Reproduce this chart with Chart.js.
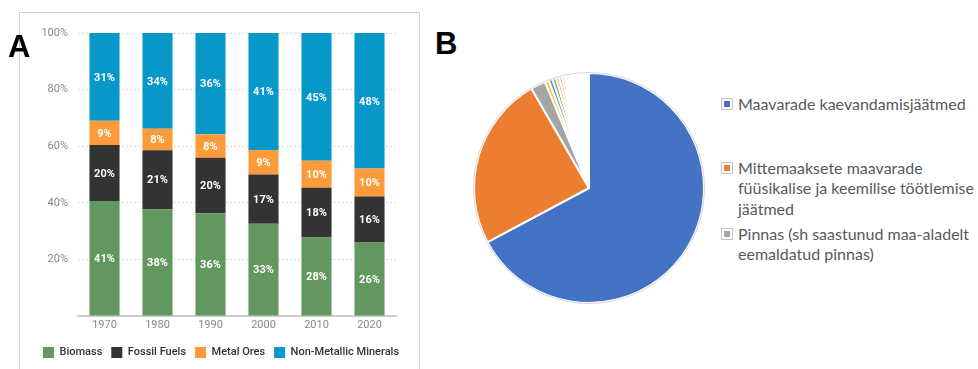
<!DOCTYPE html>
<html>
<head>
<meta charset="utf-8">
<script src="https://cdn.jsdelivr.net/npm/chart.js@4.4.1/dist/chart.umd.min.js"></script>
<style>
  html, body { margin: 0; padding: 0; background: #fff; }
  body { width: 978px; height: 369px; position: relative; overflow: hidden; }
  #frameA { position: absolute; left: 19px; top: 12px; width: 401px; height: 380px; border: 1px solid #cfcfcf; box-sizing: border-box; }
  #cA { position: absolute; left: 20px; top: 13px; }
  #cB { position: absolute; left: 471px; top: 70px; }
  .panel { position: absolute; font-family: "Liberation Sans", Arial, sans-serif; font-weight: bold; font-size: 31px; color: #000; line-height: 1; }
  #legB { position: absolute; left: 0; top: 0; font-family: Lato, "Open Sans", sans-serif; font-size: 16px; color: #595959; }
  .li { position: absolute; left: 721px; }
  .mk { position: absolute; left: 0; width: 12px; height: 12px; border: 1px solid #c4c4c4; box-sizing: border-box; background: #fff; }
  .mk span { position: absolute; left: 2px; top: 2px; width: 6px; height: 6px; }
  .tx { position: absolute; left: 17px; white-space: nowrap; line-height: 20.5px; }
</style>
</head>
<body>
<div id="frameA"></div>
<canvas id="cA" width="399" height="356"></canvas>
<div class="panel" style="left:8px; top:31px;">A</div>
<div class="panel" style="left:435px; top:28px;">B</div>
<canvas id="cB" width="236" height="236"></canvas>
<div id="legB"></div>
<script>
// ---------- Panel A data ----------
const years = ['1970', '1980', '1990', '2000', '2010', '2020'];
const biomass = [40.6, 37.7, 36.3, 32.6, 27.7, 26.0];
const fossilFuels = [19.8, 20.9, 19.6, 17.4, 17.6, 16.2];
const metalOres = [8.6, 7.6, 8.3, 8.6, 9.6, 9.9];
const nonMetallic = [31.0, 33.8, 35.8, 41.4, 45.1, 47.9];
const seriesNames = ['Biomass', 'Fossil Fuels', 'Metal Ores', 'Non-Metallic Minerals'];
const yTicks = [0, 20, 40, 60, 80, 100];

// ---------- Panel B data ----------
const pieLabels = [
  ['Maavarade kaevandamisjäätmed'],
  ['Mittemaaksete maavarade', 'füüsikalise ja keemilise töötlemise', 'jäätmed'],
  ['Pinnas (sh saastunud maa-aladelt', 'eemaldatud pinnas)'],
  '', '', '', '', '', '', ''
];
const pieValues = [67.2, 24.45, 2.1, 0.55, 0.55, 0.5, 0.45, 0.4, 0.35, 3.45];
const pieColors = ['#4472C4', '#ED7D31', '#A5A5A5', '#FFC000', '#5B9BD5', '#70AD47', '#F4B183', '#C9A38A', '#E8B4A8', '#FFFFFF'];

Chart.defaults.font.family = 'Roboto, "Open Sans", sans-serif';

const barLabelPlugin = {
  id: 'barLabels',
  afterDatasetsDraw(chart) {
    const ctx = chart.ctx;
    ctx.save();
    ctx.fillStyle = '#ffffff';
    ctx.font = 'bold 11px Roboto, sans-serif';
    ctx.textAlign = 'center';
    ctx.textBaseline = 'middle';
    chart.data.datasets.forEach((ds, di) => {
      const meta = chart.getDatasetMeta(di);
      meta.data.forEach((el, i) => {
        const p = el.getProps(['x', 'y', 'base'], true);
        ctx.fillText(Math.round(ds.data[i]) + '%', p.x, (p.y + p.base) / 2 + 1);
      });
    });
    ctx.restore();
  }
};

new Chart(document.getElementById('cA'), {
  type: 'bar',
  data: {
    labels: years,
    datasets: [
      { label: seriesNames[0], data: biomass, backgroundColor: '#62985F' },
      { label: seriesNames[1], data: fossilFuels, backgroundColor: '#333333' },
      { label: seriesNames[2], data: metalOres, backgroundColor: '#FD9A39' },
      { label: seriesNames[3], data: nonMetallic, backgroundColor: '#0897C9' }
    ]
  },
  options: {
    responsive: false,
    devicePixelRatio: 1,
    animation: false,
    layout: { padding: { top: 20, right: 0, left: 3, bottom: 1 } },
    datasets: { bar: { categoryPercentage: 0.8, barPercentage: 0.71, borderWidth: 0 } },
    scales: {
      x: {
        stacked: true,
        grid: { display: false, drawTicks: false },
        border: { display: true, color: '#cccccc', width: 2 },
        ticks: { color: '#888888', font: { size: 11 }, padding: 3 },
        afterFit(s) { s.height = 22; }
      },
      y: {
        stacked: true,
        min: 0, max: 100,
        afterBuildTicks(s) { s.ticks = yTicks.map(v => ({ value: v })); },
        grid: { color: '#dddddd', lineWidth: 1, drawTicks: false },
        border: { display: false, dash: [2, 2] },
        ticks: {
          color: '#888888', font: { size: 11 }, padding: 10,
          callback: v => (v === 0 ? '' : v + '%')
        },
        afterFit(s) { s.width = 55; }
      },
      yR: {
        position: 'right',
        display: true,
        grid: { display: false, drawTicks: false },
        border: { display: false },
        ticks: { display: false },
        afterFit(s) { s.width = 23; }
      }
    },
    plugins: {
      legend: {
        position: 'bottom',
        labels: { boxWidth: 11, boxHeight: 11, padding: 9, color: '#333333', font: { size: 11, weight: '500' } }
      },
      tooltip: { enabled: false }
    }
  },
  plugins: [barLabelPlugin]
});

const outlinePlugin = {
  id: 'outline',
  afterDatasetsDraw(chart) {
    const arc = chart.getDatasetMeta(0).data[0];
    if (!arc) return;
    const ctx = chart.ctx;
    ctx.save();
    ctx.strokeStyle = '#d6d6d6';
    ctx.lineWidth = 1;
    ctx.beginPath();
    ctx.arc(arc.x, arc.y, arc.outerRadius + 0.5, 0, Math.PI * 2);
    ctx.stroke();
    ctx.restore();
  }
};

new Chart(document.getElementById('cB'), {
  type: 'pie',
  data: {
    labels: pieLabels,
    datasets: [{ data: pieValues, backgroundColor: pieColors, borderColor: '#ffffff', borderWidth: 2 }]
  },
  options: {
    responsive: false,
    devicePixelRatio: 1,
    animation: false,
    layout: { padding: 2 },
    plugins: { legend: { display: false }, tooltip: { enabled: false } }
  },
  plugins: [outlinePlugin]
});

// HTML legend for panel B built from the pie data
const legTops = [93.75, 157.75, 223.75];
const legB = document.getElementById('legB');
pieLabels.forEach((lab, i) => {
  if (!Array.isArray(lab)) return;
  const item = document.createElement('div');
  item.className = 'li';
  item.style.top = legTops[i] + 'px';
  const mk = document.createElement('div');
  mk.className = 'mk';
  mk.style.top = '4px';
  const inner = document.createElement('span');
  inner.style.background = pieColors[i];
  mk.appendChild(inner);
  const tx = document.createElement('div');
  tx.className = 'tx';
  tx.innerHTML = lab.map(l => l.replace(/&/g, '&amp;')).join('<br>');
  item.appendChild(mk);
  item.appendChild(tx);
  legB.appendChild(item);
});
</script>
</body>
</html>
